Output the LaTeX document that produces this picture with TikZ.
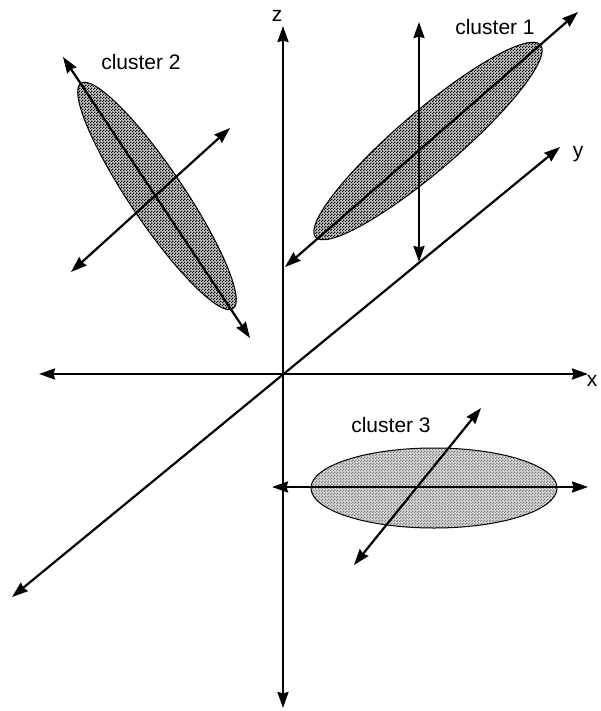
\documentclass[tikz,border=0pt]{standalone}
\usepackage{fontspec}
\setmainfont{Liberation Sans}
\usetikzlibrary{arrows.meta,patterns}
\pgfdeclarepatternformonly{finechecker}{\pgfpointorigin}{\pgfpoint{1.5pt}{1.5pt}}{\pgfpoint{1.5pt}{1.5pt}}{%
  \pgfpathrectangle{\pgfpointorigin}{\pgfpoint{0.75pt}{0.75pt}}%
  \pgfpathrectangle{\pgfpoint{0.75pt}{0.75pt}}{\pgfpoint{0.75pt}{0.75pt}}%
  \pgfusepath{fill}}
\begin{document}
\begin{tikzpicture}[x=0.5pt,y=-0.5pt,
  dbl/.style={line width=1.1pt,
    {Stealth[length=8pt,width=5.5pt,inset=0.7pt]}-{Stealth[length=8pt,width=5.5pt,inset=0.7pt]}},
  darkcloud/.style={draw=black,line width=0.5pt,preaction={fill=black!22},pattern=finechecker,pattern color=black},
  lightcloud/.style={draw=black,line width=0.5pt,preaction={fill=black!15},pattern=finechecker,pattern color=black!50},
  lbl/.style={font=\fontsize{10.5}{12}\selectfont,anchor=base,inner sep=0pt}]
\useasboundingbox (0,0) rectangle (600,711);
% centres
\coordinate (c1) at (428,141);
\coordinate (c2) at (157,196);
\coordinate (c3) at (434,488);
% clouds
\path[darkcloud,rotate around={40.5:(c1)}] (c1) ellipse [x radius=148, y radius=30];
\path[darkcloud,rotate around={-56:(c2)}] (c2) ellipse [x radius=136, y radius=27];
\path[lightcloud] (c3) ellipse [x radius=123, y radius=40];
% main axes
\coordinate (ztop) at (283,26);
\coordinate (zbot) at (283,708);
\coordinate (xl) at (39,374);
\coordinate (xr) at (588,374);
\coordinate (yl) at (12,597);
\coordinate (yr) at (560,147);
\draw[dbl] (zbot) -- (ztop);
\draw[dbl] (xl) -- (xr);
\draw[dbl] (yl) -- (yr);
% cluster 1 axes
\coordinate (a1) at (285,267);
\coordinate (b1) at (578,12);
\coordinate (v1t) at (419,22);
\coordinate (v1b) at (419,262);
\draw[dbl] (a1) -- (b1);
\draw[dbl] (v1t) -- (v1b);
% cluster 2 axes
\coordinate (a2) at (63,57);
\coordinate (b2) at (250,338);
\coordinate (m2a) at (71,272);
\coordinate (m2b) at (230,128);
\draw[dbl] (a2) -- (b2);
\draw[dbl] (m2a) -- (m2b);
% cluster 3 axes
\coordinate (a3) at (272,487);
\coordinate (b3) at (588,487);
\coordinate (m3a) at (354,565);
\coordinate (m3b) at (481,408);
\draw[dbl] (a3) -- (b3);
\draw[dbl] (m3a) -- (m3b);
% labels
\node[lbl] (zl) at (277,22) {z};
\node[lbl] (xlab) at (592,386) {x};
\node[lbl] (ylab) at (578,158) {y};
\node[lbl] (l1) at (495,35) {cluster 1};
\node[lbl] (l2) at (141,70) {cluster 2};
\node[lbl] (l3) at (391,432) {cluster 3};
\end{tikzpicture}
\end{document}
